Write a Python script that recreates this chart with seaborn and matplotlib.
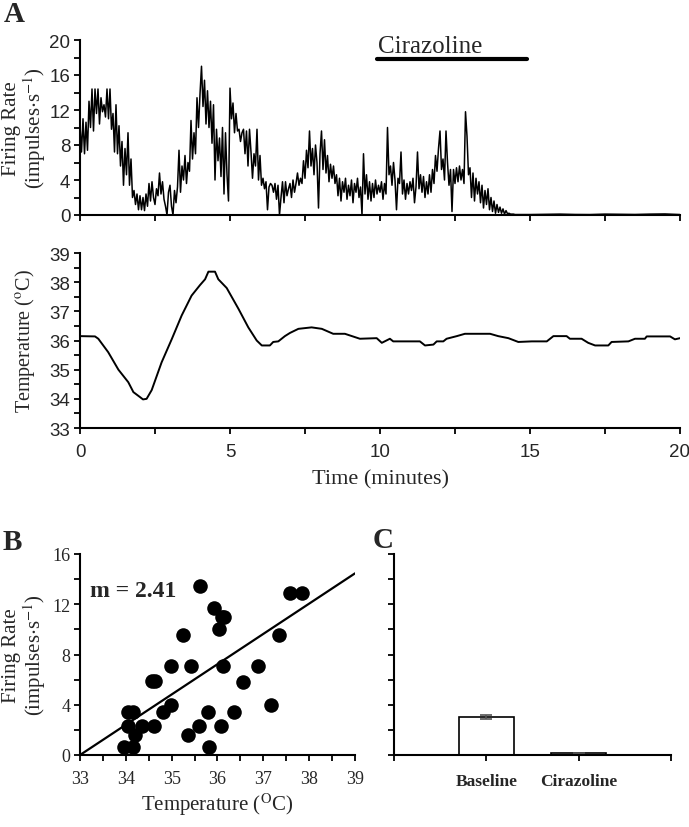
import numpy as np
import matplotlib
matplotlib.use("Agg")
import matplotlib.pyplot as plt
import matplotlib.transforms as mtransforms
import seaborn as sns
from matplotlib.ticker import MultipleLocator, NullFormatter

# ---------------- data ----------------
fr_dt = 0.05  # minutes between firing-rate samples
firing_rate = [
    10.2, 7.2, 11.0, 7.0, 10.6, 7.4, 13.0, 10.0, 14.4, 9.6, 14.4, 11.6, 14.4, 10.4, 13.4, 11.8, 12.6, 11.2, 14.4, 11.0,
    14.4, 9.8, 11.6, 7.2, 12.6, 7.0, 10.2, 5.6, 8.4, 3.4, 7.6, 4.6, 9.4, 3.4, 6.4, 2.0, 2.8, 1.2, 2.4, 0.6,
    2.2, 0.6, 2.0, 0.5, 2.4, 1.0, 3.6, 1.6, 3.8, 2.0, 1.2, 3.0, 2.2, 4.8, 2.4, 3.8, 1.8, 1.0, 0.0, 2.6,
    3.4, 1.0, 0.0, 2.8, 1.4, 3.2, 7.4, 2.6, 5.6, 4.0, 6.8, 3.6, 6.0, 5.0, 10.8, 6.4, 9.4, 7.0, 13.4, 10.0,
    13.8, 17.0, 12.4, 15.4, 10.4, 14.2, 10.0, 13.0, 8.2, 12.6, 4.0, 9.8, 6.2, 8.8, 4.4, 10.0, 2.4, 9.4, 4.6, 1.6,
    14.5, 11.0, 12.8, 9.4, 11.6, 9.6, 9.8, 8.4, 9.4, 9.8, 7.0, 9.6, 5.6, 9.8, 7.2, 4.2, 7.0, 5.6, 9.8, 4.0,
    6.8, 3.4, 4.2, 3.0, 3.8, 0.6, 3.2, 3.6, 3.4, 2.6, 3.6, 1.8, 3.4, 0.0, 2.0, 3.8, 1.4, 3.8, 2.2, 3.0,
    3.6, 2.0, 4.0, 2.6, 3.6, 4.8, 3.4, 4.2, 3.6, 6.2, 4.2, 7.4, 5.4, 9.6, 5.6, 7.6, 4.6, 8.0, 6.0, 0.8,
    7.0, 9.6, 5.2, 8.6, 4.8, 6.8, 3.8, 5.8, 4.2, 5.6, 3.6, 4.6, 2.2, 4.2, 1.6, 3.8, 2.6, 4.2, 1.8, 3.4,
    2.2, 4.0, 1.4, 3.6, 2.6, 4.2, 2.0, 3.2, 0.0, 7.0, 2.4, 4.6, 1.8, 3.8, 1.6, 3.6, 2.0, 4.0, 2.4, 3.4,
    2.6, 3.8, 1.8, 3.6, 2.4, 10.0, 4.6, 5.6, 3.4, 6.0, 4.0, 0.6, 4.2, 3.6, 7.2, 2.4, 4.0, 1.8, 3.6, 2.4,
    3.8, 2.8, 4.2, 1.4, 3.2, 7.2, 3.0, 4.6, 2.6, 4.4, 2.0, 3.8, 2.4, 4.6, 2.6, 5.2, 3.6, 6.8, 5.0, 7.6,
    9.6, 5.2, 6.4, 4.0, 9.6, 6.0, 3.4, 5.2, 0.4, 5.2, 3.6, 5.4, 3.8, 5.6, 4.0, 5.2, 3.6, 11.8, 9.0, 4.6,
    5.4, 2.0, 4.8, 1.6, 4.2, 2.4, 3.8, 1.4, 3.4, 0.8, 2.8, 1.2, 3.0, 0.6, 2.0, 0.4, 1.6, 0.2, 1.2, 0.3,
    0.9, 0.2, 0.7, 0.1, 0.5, 0.15, 0.2, 0.1, 0.1, 0.1, 0.05, 0.05, 0.05, 0.05, 0.05, 0.05, 0.05, 0.05, 0.05, 0.05,
]
fr_tail_time = [15.0, 15.5, 16.0, 16.5, 17.0, 17.5, 18.0, 18.5, 19.0, 19.5, 20.0]
fr_tail_rate = [0.05, 0.08, 0.10, 0.06, 0.05, 0.10, 0.08, 0.06, 0.10, 0.12, 0.05]

temp_time = [0.0, 0.5, 0.61, 0.94, 1.28, 1.61, 1.78, 2.0, 2.1, 2.22,
             2.39, 2.72, 3.06, 3.39, 3.72, 4.0, 4.17, 4.28, 4.5, 4.61,
             4.89, 5.28, 5.61, 5.89, 6.06, 6.33, 6.44, 6.61, 6.83, 7.0,
             7.28, 7.72, 8.06, 8.44, 8.83, 9.33, 9.89, 10.06, 10.33, 10.44,
             11.33, 11.5, 11.78, 11.89, 12.11, 12.22, 12.56, 12.83, 13.67, 13.94,
             14.28, 14.61, 15.06, 15.56, 15.78, 16.22, 16.33, 16.72, 16.94, 17.17,
             17.61, 17.72, 18.28, 18.5, 18.83, 18.89, 19.67, 19.83, 20.0]
temp_values = [36.15, 36.14, 36.06, 35.6, 35.0, 34.57, 34.23, 34.06, 33.98, 34.0,
               34.3, 35.25, 36.05, 36.86, 37.54, 37.9, 38.1, 38.36, 38.36, 38.1,
               37.8, 37.09, 36.45, 36.0, 35.83, 35.83, 35.95, 35.97, 36.15, 36.26,
               36.4, 36.45, 36.4, 36.23, 36.23, 36.06, 36.08, 35.92, 36.06, 35.97,
               35.97, 35.83, 35.86, 35.97, 35.97, 36.06, 36.15, 36.23, 36.23, 36.15,
               36.08, 35.95, 35.97, 35.97, 36.15, 36.15, 36.06, 36.06, 35.92, 35.83,
               35.83, 35.95, 35.97, 36.06, 36.06, 36.14, 36.14, 36.04, 36.08]

drug_label = "Cirazoline"
drug_period = [9.9, 14.9]

scatter_temp = [33.96, 34.15, 34.04, 34.16, 34.04, 34.21, 34.36, 34.56, 34.64, 34.62,
                34.82, 34.99, 34.99, 35.25, 35.36, 35.42, 35.60, 35.62, 35.79, 35.82,
                35.93, 36.03, 36.10, 36.14, 36.08, 36.13, 36.37, 36.56, 36.89, 37.16,
                37.35, 37.58, 37.84]
scatter_rate = [0.61, 0.61, 3.45, 3.45, 2.28, 1.62, 2.28, 5.86, 5.86, 2.28,
                3.45, 4.0, 7.11, 9.58, 1.62, 7.11, 2.28, 13.43, 3.45, 0.61,
                11.7, 10.03, 10.96, 10.96, 2.28, 7.11, 3.45, 5.78, 7.11, 4.0,
                9.58, 12.87, 12.87]
fit_x = [33.0, 39.0]
fit_y = [0.0, 14.46]
slope_text = "m = 2.41"

bar_categories = ["Baseline", "Cirazoline"]
bar_means = [3.05, 0.12]
bar_sem = [0.15, 0.05]

# ---------------- style ----------------
sns.set_style("ticks")
plt.rcParams["font.family"] = ["Liberation Serif", "DejaVu Serif"]
plt.rcParams["mathtext.fontset"] = "stix"
plt.rcParams["axes.linewidth"] = 1.5
plt.rcParams["axes.edgecolor"] = "black"

W, H = 689, 828
fig = plt.figure(figsize=(W / 100, H / 100), dpi=100)


def px_axes(left, top, right, bottom):
    return fig.add_axes([left / W, 1 - bottom / H, (right - left) / W, (bottom - top) / H])


def style_axis(ax, tick_family, tick_size):
    sns.despine(ax=ax)
    ax.tick_params(which="both", direction="out", length=4, width=1.3, color="black",
                   labelsize=tick_size, pad=3)
    for lab in ax.get_xticklabels() + ax.get_yticklabels():
        lab.set_family(tick_family)


sans = ["Liberation Sans", "DejaVu Sans"]
serif = ["Liberation Serif", "DejaVu Serif"]
rate_label = "Firing Rate\n(impulses$\\cdot$s$^{-1}$)"

# ---- A: firing rate ----
ax1 = px_axes(80, 41, 680, 216)
fr_time = np.arange(len(firing_rate)) * fr_dt
sns.lineplot(x=np.concatenate([fr_time, fr_tail_time]),
             y=np.concatenate([firing_rate, fr_tail_rate]),
             ax=ax1, color="black", linewidth=1.1, estimator=None, sort=False)
ax1.set_xlim(0, 20)
ax1.set_ylim(0, 20)
ax1.xaxis.set_major_locator(MultipleLocator(2.5))
ax1.xaxis.set_major_formatter(NullFormatter())
ax1.yaxis.set_major_locator(MultipleLocator(4))
ax1.yaxis.set_minor_locator(MultipleLocator(2))
ax1.set_xlabel("")
ax1.set_ylabel(rate_label, fontsize=15, linespacing=1.0)
ax1.yaxis.label.set_va("center")
ax1.yaxis.set_label_coords(-0.092, 0.5)
style_axis(ax1, sans, 13.5)
ax1.plot(drug_period, [17.8, 17.8], color="black", linewidth=3, solid_capstyle="round", clip_on=False)
ax1.text(drug_period[0] + 0.03, 18.6, drug_label, fontsize=18, va="baseline", ha="left")

# ---- A: temperature ----
ax2 = px_axes(80, 254, 680, 429)
sns.lineplot(x=temp_time, y=temp_values, ax=ax2, color="black", linewidth=1.4,
             estimator=None, sort=False)
ax2.set_xlim(0, 20)
ax2.set_ylim(33, 39)
ax2.xaxis.set_major_locator(MultipleLocator(5))
ax2.xaxis.set_minor_locator(MultipleLocator(2.5))
ax2.yaxis.set_major_locator(MultipleLocator(1))
ax2.yaxis.set_minor_locator(MultipleLocator(0.5))
ax2.set_xlabel("Time (minutes)", fontsize=16)
ax2.xaxis.set_label_coords(0.5, -0.29)
ax2.xaxis.label.set_va("center")
ax2.set_ylabel("Temperature ($^{\\mathrm{o}}$C)", fontsize=14.5)
ax2.yaxis.label.set_va("center")
ax2.yaxis.set_label_coords(-0.092, 0.5)
style_axis(ax2, sans, 13.5)
ax2.tick_params(axis="x", pad=7)
# keep the last x label ("20") inside the figure, as in the reference
fig.canvas.draw()
last_lab = ax2.get_xticklabels()[-1]
last_lab.set_transform(last_lab.get_transform() +
                       mtransforms.ScaledTranslation(-3 / 100, 0, fig.dpi_scale_trans))

# ---- B: scatter ----
ax3 = px_axes(80, 555, 355, 756)
sns.scatterplot(x=scatter_temp, y=scatter_rate, ax=ax3, color="black", edgecolor="black",
                s=110, linewidth=0, clip_on=False, zorder=3)
sns.lineplot(x=fit_x, y=fit_y, ax=ax3, color="black", linewidth=1.6, estimator=None)
ax3.set_xlim(33, 39)
ax3.set_ylim(0, 16)
ax3.xaxis.set_major_locator(MultipleLocator(1))
ax3.xaxis.set_minor_locator(MultipleLocator(0.5))
ax3.yaxis.set_major_locator(MultipleLocator(4))
ax3.yaxis.set_minor_locator(MultipleLocator(2))
ax3.set_xlabel("Temperature ($^{\\mathrm{O}}$C)", fontsize=15)
ax3.xaxis.label.set_va("center")
ax3.xaxis.set_label_coords(0.5, -0.244)
ax3.set_ylabel(rate_label, fontsize=15, linespacing=1.0)
ax3.yaxis.label.set_va("center")
ax3.yaxis.set_label_coords(-0.2, 0.5)
style_axis(ax3, serif, 13)
ax3.tick_params(axis="x", pad=7)
ax3.text(33.22, 12.66, slope_text, fontsize=17, fontweight="bold", va="baseline")

# ---- C: bars ----
ax4 = px_axes(394, 555, 671, 756)
sns.barplot(x=bar_categories, y=bar_means, ax=ax4, color="white", edgecolor="black",
            linewidth=1.2, width=0.6, errorbar=None, saturation=1)
ax4.errorbar(range(len(bar_means)), bar_means, yerr=bar_sem, fmt="none",
             ecolor="#555555", elinewidth=1.2, capsize=4.5, capthick=1.2)
ax4.set_xlim(-1, 2)
ax4.set_ylim(0, 16)
ax4.set_xticks([-1, 0, 1, 2])
ax4.set_xticklabels(["", "Baseline", "Cirazoline", ""])
ax4.yaxis.set_major_locator(MultipleLocator(2))
ax4.yaxis.set_major_formatter(NullFormatter())
ax4.set_xlabel("")
ax4.set_ylabel("")
style_axis(ax4, serif, 12.5)
for lab in ax4.get_xticklabels():
    lab.set_fontweight("bold")
ax4.tick_params(axis="x", pad=9)

# ---- panel letters ----
for letter, (x, y) in {"A": (14, 14), "B": (12, 542), "C": (383, 540)}.items():
    fig.text(x / W, 1 - y / H, letter, fontsize=21, fontweight="bold", ha="center", va="center")

fig.savefig("out.png", dpi=100)
